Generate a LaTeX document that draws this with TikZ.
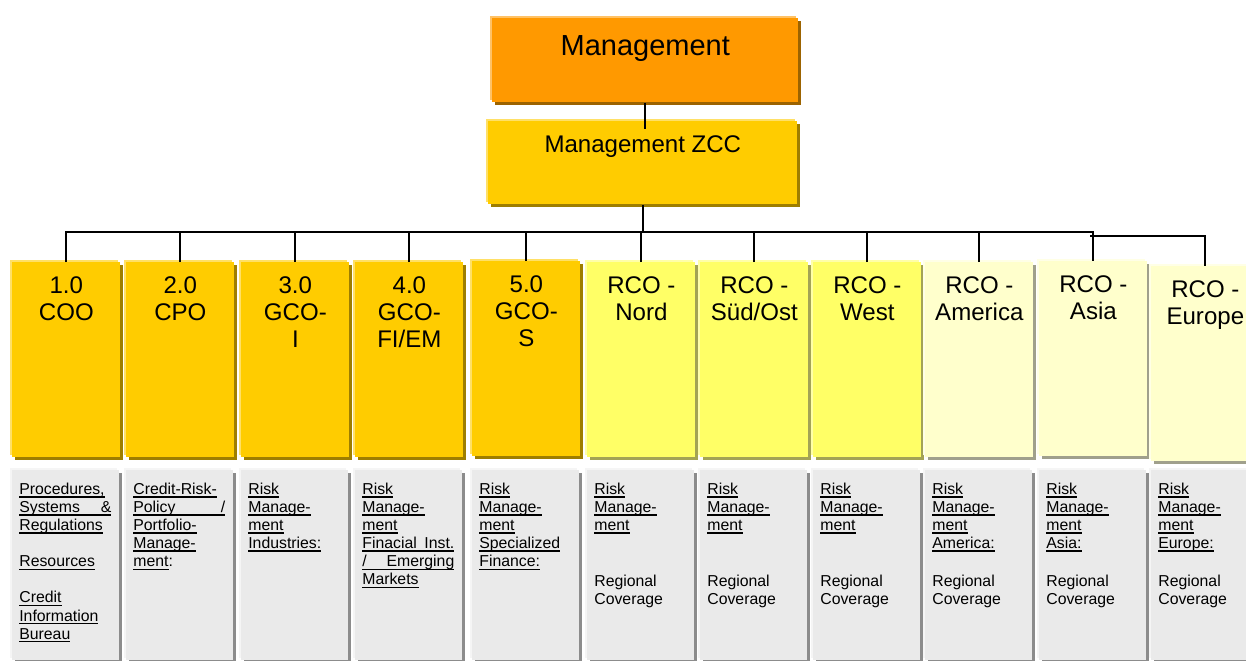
\documentclass[tikz,border=0pt]{standalone}
\usepackage{fontspec}
\setmainfont{Liberation Sans}
\usetikzlibrary{positioning,shadows}

\definecolor{mgmtorange}{HTML}{FF9900}
\definecolor{mgmtorangelt}{HTML}{FFC266}
\definecolor{mgmtorangedk}{HTML}{9C6300}
\definecolor{zccgold}{HTML}{FFCC00}
\definecolor{zccgoldlt}{HTML}{FFE066}
\definecolor{zccgolddk}{HTML}{9E7E00}
\definecolor{lemon}{HTML}{FFFF66}
\definecolor{lemonlt}{HTML}{FFFFA8}
\definecolor{lemondk}{HTML}{A3A355}
\definecolor{cream}{HTML}{FFFFCC}
\definecolor{creamlt}{HTML}{FFFFE6}
\definecolor{creamdk}{HTML}{A0A08C}
\definecolor{paper}{HTML}{EAEAEA}
\definecolor{paperlt}{HTML}{F5F5F5}
\definecolor{paperdk}{HTML}{8C8C8C}

\newcommand{\ul}[1]{\leavevmode\setbox0\hbox{#1}\rlap{\rule[-1.8pt]{\wd0}{0.8pt}}\box0}
\newcommand{\fullline}[1]{\hbox to 1.84cm{#1}}
\newcommand{\headtxt}[1]{\parbox[t][3.9cm][t]{2.16cm}{\centering\fontsize{13.7pt}{15.4pt}\selectfont\rule{0pt}{0.62cm}#1}}
\newcommand{\subtxt}[1]{\parbox[t][3.8cm][t]{2.14cm}{\hspace*{0.14cm}\parbox[t]{1.84cm}{\raggedright\fontsize{9pt}{10.3pt}\selectfont\rule{0pt}{0.48cm}#1}}}

\begin{document}
\begin{tikzpicture}[
  x=0.02cm, y=-0.02cm,
  conn/.style={line width=1pt},
  box3d/.style n args={3}{fill=#1,inner sep=0pt,anchor=north west,
    drop shadow={shadow xshift=-0.04cm,shadow yshift=0.04cm,fill=#2,opacity=1},
    drop shadow={shadow xshift=0.06cm,shadow yshift=-0.06cm,fill=#3,opacity=1}},
  topbox/.style={box3d={mgmtorange}{mgmtorangelt}{mgmtorangedk}},
  headgold/.style={box3d={zccgold}{zccgoldlt}{zccgolddk}},
  headlemon/.style={box3d={lemon}{lemonlt}{lemondk}},
  headcream/.style={box3d={cream}{creamlt}{creamdk}},
  subbox/.style={box3d={paper}{paperlt}{paperdk}},
]
\useasboundingbox (0,0) rectangle (1246,660);

\node[topbox] (mgmt) at (492,18) {\parbox[t][1.68cm][t]{6.12cm}{\centering\fontsize{16.5pt}{18pt}\selectfont\rule{0pt}{0.74cm}Management}};
\node[headgold] (zcc) at (488,121) {\parbox[t][1.66cm][t]{6.18cm}{\centering\fontsize{13.7pt}{15pt}\selectfont\rule{0pt}{0.62cm}Management ZCC}};

\node[headgold] (coo) at (12,262) {\headtxt{1.0\\COO}};
\node[headgold] (cpo) at (126,262) {\headtxt{2.0\\CPO}};
\node[headgold] (gcoi) at (241,262) {\headtxt{3.0\\GCO-\\I}};
\node[headgold] (gcofi) at (355,262) {\headtxt{4.0\\GCO-\\FI/EM}};
\node[headgold] (gcos) at (472,261) {\headtxt{5.0\\GCO-\\S}};
\node[headlemon] (nord) at (587,262) {\headtxt{RCO -\\Nord}};
\node[headlemon] (suedost) at (700,262) {\headtxt{RCO -\\Süd/Ost}};
\node[headlemon] (west) at (813,262) {\headtxt{RCO -\\West}};
\node[headcream] (america) at (925,262) {\headtxt{RCO -\\America}};
\node[headcream] (asia) at (1039,261) {\headtxt{RCO -\\Asia}};
\node[headcream] (europe) at (1151,266) {\headtxt{RCO -\\Europe}};

\node[subbox] (cootxt) at (12,470) {\subtxt{\ul{Procedures,}\\ \ul{\fullline{Systems\hfill\&}}\\ \ul{Regulations}\\[10.3pt] \ul{Resources}\\[10.3pt] \ul{Credit}\\ \ul{Information}\\ \ul{Bureau}}};
\node[subbox] (cpotxt) at (126,470) {\subtxt{\ul{Credit-Risk-}\\ \ul{\fullline{Policy\hfill/}}\\ \ul{Portfolio-}\\ \ul{Manage-}\\ \ul{ment}:}};
\node[subbox] (gcoitxt) at (241,470) {\subtxt{\ul{Risk}\\ \ul{Manage-}\\ \ul{ment}\\ \ul{Industries:}}};
\node[subbox] (gcofitxt) at (355,470) {\subtxt{\ul{Risk}\\ \ul{Manage-}\\ \ul{ment}\\ \ul{\fullline{Finacial\hfill Inst.}}\\ \ul{\fullline{/\hfill Emerging}}\\ \ul{Markets}}};
\node[subbox] (gcostxt) at (472,470) {\subtxt{\ul{Risk}\\ \ul{Manage-}\\ \ul{ment}\\ \ul{Specialized}\\ \ul{Finance:}}};
\node[subbox] (nordtxt) at (587,470) {\subtxt{\ul{Risk}\\ \ul{Manage-}\\ \ul{ment}\\[21.4pt] Regional\\ Coverage}};
\node[subbox] (suedosttxt) at (700,470) {\subtxt{\ul{Risk}\\ \ul{Manage-}\\ \ul{ment}\\[21.4pt] Regional\\ Coverage}};
\node[subbox] (westtxt) at (813,470) {\subtxt{\ul{Risk}\\ \ul{Manage-}\\ \ul{ment}\\[21.4pt] Regional\\ Coverage}};
\node[subbox] (americatxt) at (925,470) {\subtxt{\ul{Risk}\\ \ul{Manage-}\\ \ul{ment}\\ \ul{America:}\\[11.1pt] Regional\\ Coverage}};
\node[subbox] (asiatxt) at (1039,470) {\subtxt{\ul{Risk}\\ \ul{Manage-}\\ \ul{ment}\\ \ul{Asia:}\\[11.1pt] Regional\\ Coverage}};
\node[subbox] (europetxt) at (1151,470) {\subtxt{\ul{Risk}\\ \ul{Manage-}\\ \ul{ment}\\ \ul{Europe:}\\[11.1pt] Regional\\ Coverage}};

\coordinate (bus) at (0,232);
\coordinate (eurobus) at (1090,236);

\draw[conn,shorten >=-0.16cm] (mgmt.south) -- (mgmt.south |- zcc.north);
\draw[conn] (zcc.south) -- (zcc.south |- bus);
\draw[conn] (coo.north) |- (asia.north |- bus) -- (asia.north);
\draw[conn] (eurobus) -| (europe.north);
\draw[conn] (cpo.north) edge (cpo.north |- bus)
  (gcoi.north) edge (gcoi.north |- bus)
  (gcofi.north) edge (gcofi.north |- bus)
  (gcos.north) edge (gcos.north |- bus)
  (nord.north) edge (nord.north |- bus)
  (suedost.north) edge (suedost.north |- bus)
  (west.north) edge (west.north |- bus)
  (america.north) edge (america.north |- bus);
\end{tikzpicture}
\end{document}
